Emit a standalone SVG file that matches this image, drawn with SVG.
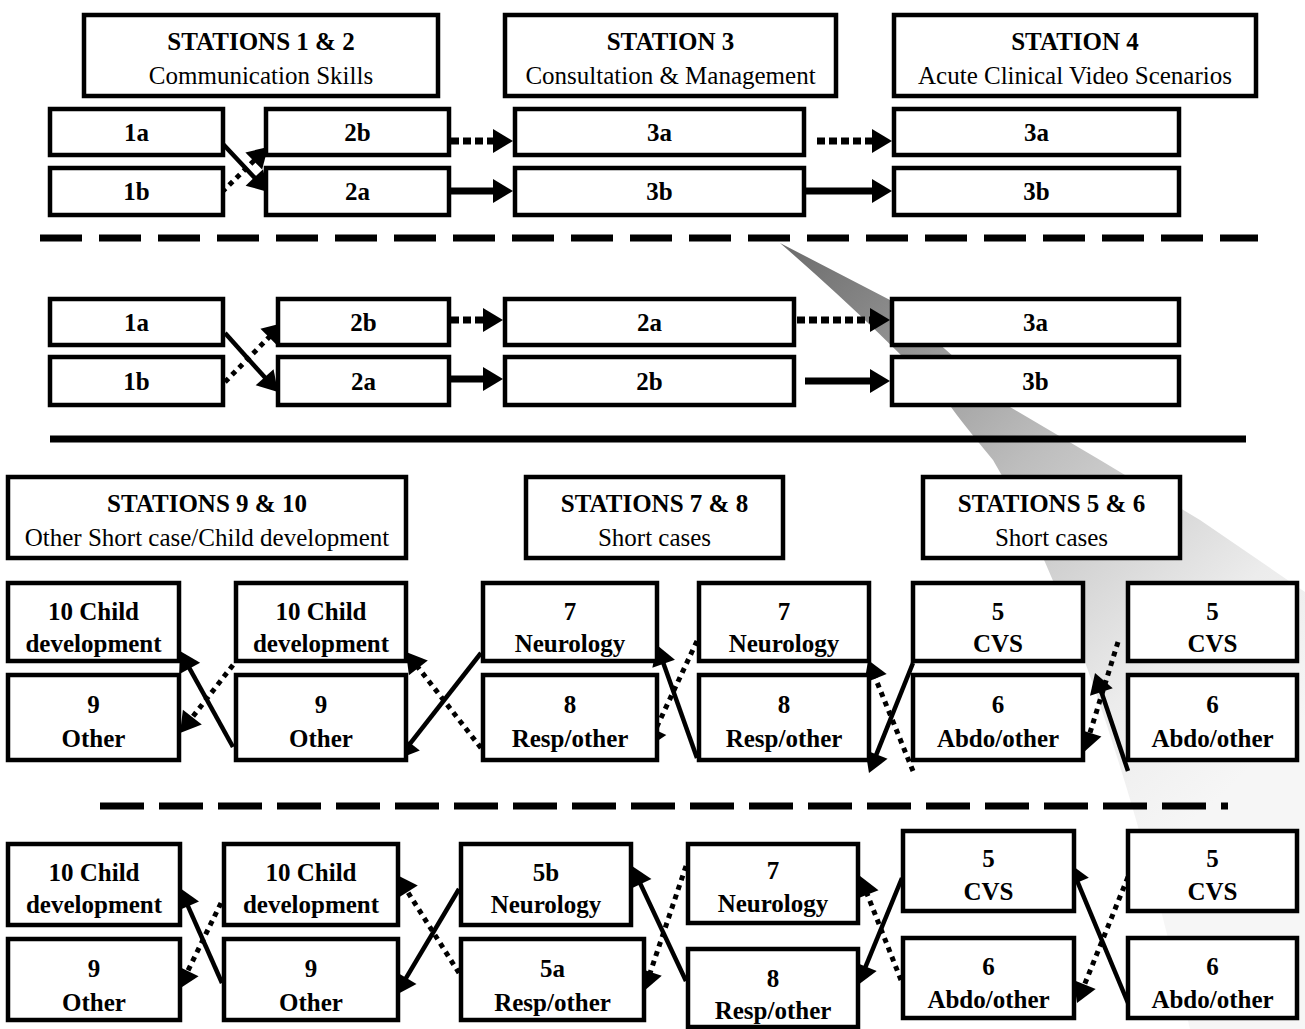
<svg xmlns="http://www.w3.org/2000/svg" width="1305" height="1029" viewBox="0 0 1305 1029">
<style>
.box{fill:#fff;stroke:#000;stroke-width:4.5}
.t{font-family:Liberation Serif,Tinos,Times New Roman,DejaVu Serif,Noto Serif,serif;font-size:25px;text-anchor:middle;fill:#000}
.b{font-weight:bold}
.sol{stroke:#000;stroke-width:7;fill:none}
.dot{stroke:#000;stroke-width:7;stroke-dasharray:8 4;fill:none}
.sold{stroke:#000;stroke-width:4.5;fill:none}
.dotd{stroke:#000;stroke-width:5;stroke-dasharray:5 5;fill:none}
.sep{stroke:#000;stroke-width:7;fill:none}
</style>
<defs>
<marker id="ah" markerUnits="userSpaceOnUse" markerWidth="20" markerHeight="24" refX="10" refY="12" orient="auto" overflow="visible">
<path d="M0,0 L20,12 L0,24 Z" fill="#000"/>
</marker>
<linearGradient id="sh" gradientUnits="userSpaceOnUse" x1="790" y1="250" x2="1260" y2="760">
<stop offset="0" stop-color="#6e6e6e"/>
<stop offset="0.45" stop-color="#bdbdbd"/>
<stop offset="0.8" stop-color="#ececec"/>
<stop offset="1" stop-color="#f6f6f6"/>
</linearGradient>
</defs>
<rect width="1305" height="1029" fill="#fff"/>
<g id="shadow">
<path d="M780,243 L890,300 L1010,407 L1100,460 L1200,520 L1305,592 L1305,1029 L1190,1029 Q1100,640 993,460 Q960,420 951,407 Q880,330 780,243 Z" fill="url(#sh)"/>
</g>
<g id="separators">
<line class="sep" x1="40" y1="238" x2="1258" y2="238" stroke-dasharray="42 17"/>
<line class="sep" x1="50" y1="439" x2="1246" y2="439" stroke-width="8"/>
<line class="sep" x1="100" y1="806" x2="1228" y2="806" stroke-dasharray="44 15"/>
</g>
<g id="connectors">
<!-- section 1 -->
<line class="sold" x1="222" y1="143" x2="261.2" y2="184.7" marker-end="url(#ah)"/>
<line class="dotd" x1="222" y1="192" x2="260.9" y2="154" marker-end="url(#ah)"/>
<line class="dot" x1="451" y1="141" x2="503" y2="141" marker-end="url(#ah)"/>
<line class="sol" x1="451" y1="191" x2="503" y2="191" marker-end="url(#ah)"/>
<line class="dot" x1="817" y1="141" x2="882" y2="141" marker-end="url(#ah)"/>
<line class="sol" x1="806" y1="191" x2="882" y2="191" marker-end="url(#ah)"/>
<!-- section 2 -->
<line class="sold" x1="225" y1="333" x2="271.3" y2="384.6" marker-end="url(#ah)"/>
<line class="dotd" x1="225" y1="382" x2="276" y2="330.1" marker-end="url(#ah)"/>
<line class="dot" x1="451" y1="320" x2="493" y2="320" marker-end="url(#ah)"/>
<line class="sol" x1="451" y1="379" x2="493" y2="379" marker-end="url(#ah)"/>
<line class="dot" x1="797" y1="320" x2="880" y2="320" marker-end="url(#ah)"/>
<line class="sol" x1="805" y1="381" x2="880" y2="381" marker-end="url(#ah)"/>
<!-- section 3 -->
<line class="sold" x1="233" y1="747" x2="184.8" y2="659.8" marker-end="url(#ah)"/>
<line class="dotd" x1="233" y1="665" x2="186.2" y2="725.1" marker-end="url(#ah)"/>
<line class="dotd" x1="481" y1="748" x2="412.2" y2="659.9" marker-end="url(#ah)"/>
<line class="sold" x1="481" y1="653" x2="404.2" y2="751.1" marker-end="url(#ah)"/>
<line class="sold" x1="697" y1="758" x2="660.3" y2="654.4" marker-end="url(#ah)"/>
<line class="dotd" x1="697" y1="641" x2="651.2" y2="738.9" marker-end="url(#ah)"/>
<line class="dotd" x1="913" y1="771" x2="871.8" y2="669.3" marker-end="url(#ah)"/>
<line class="sold" x1="913" y1="663" x2="872.7" y2="763.7" marker-end="url(#ah)"/>
<line class="dotd" x1="1118" y1="642" x2="1087" y2="742.4" marker-end="url(#ah)"/>
<line class="sold" x1="1128" y1="771" x2="1098.2" y2="682.5" marker-end="url(#ah)"/>
<!-- section 4 -->
<line class="sold" x1="222" y1="983" x2="184" y2="897.1" marker-end="url(#ah)"/>
<line class="dotd" x1="221" y1="903" x2="183.4" y2="980" marker-end="url(#ah)"/>
<line class="dotd" x1="459" y1="973" x2="402.3" y2="883.5" marker-end="url(#ah)"/>
<line class="sold" x1="459" y1="889" x2="401.1" y2="986.4" marker-end="url(#ah)"/>
<line class="sold" x1="686" y1="981" x2="636.3" y2="875.1" marker-end="url(#ah)"/>
<line class="dotd" x1="686" y1="866" x2="647.2" y2="981.5" marker-end="url(#ah)"/>
<line class="dotd" x1="901" y1="980" x2="863.7" y2="885.3" marker-end="url(#ah)"/>
<line class="sold" x1="902" y1="878" x2="861.8" y2="975.8" marker-end="url(#ah)"/>
<line class="sold" x1="1128" y1="1003" x2="1073.9" y2="873.2" marker-end="url(#ah)"/>
<line class="dotd" x1="1128" y1="877" x2="1080.8" y2="993.7" marker-end="url(#ah)"/>
</g>
<g id="nodes" font-family="Liberation Serif, Times New Roman, serif">
<!-- section 1 -->
<g id="s1-hdr12"><rect class="box" x="84" y="15" width="354" height="81"/><text class="t b" x="261" y="50">STATIONS 1 &amp; 2</text><text class="t" x="261" y="84">Communication Skills</text></g>
<g id="s1-hdr3"><rect class="box" x="505" y="15" width="331" height="81"/><text class="t b" x="670.5" y="50">STATION 3</text><text class="t" x="670.5" y="84">Consultation &amp; Management</text></g>
<g id="s1-hdr4"><rect class="box" x="894" y="15" width="362" height="81"/><text class="t b" x="1075" y="50">STATION 4</text><text class="t" x="1075" y="84">Acute Clinical Video Scenarios</text></g>
<g id="s1-1a"><rect class="box" x="50" y="109" width="173" height="46"/><text class="t b" x="136.5" y="141">1a</text></g>
<g id="s1-1b"><rect class="box" x="50" y="168" width="173" height="47"/><text class="t b" x="136.5" y="200">1b</text></g>
<g id="s1-2b"><rect class="box" x="266" y="109" width="183" height="46"/><text class="t b" x="357.5" y="141">2b</text></g>
<g id="s1-2a"><rect class="box" x="266" y="168" width="183" height="47"/><text class="t b" x="357.5" y="200">2a</text></g>
<g id="s1-3a"><rect class="box" x="515" y="109" width="289" height="46"/><text class="t b" x="659.5" y="141">3a</text></g>
<g id="s1-3b"><rect class="box" x="515" y="168" width="289" height="47"/><text class="t b" x="659.5" y="200">3b</text></g>
<g id="s1-4a"><rect class="box" x="894" y="109" width="285" height="46"/><text class="t b" x="1036.5" y="141">3a</text></g>
<g id="s1-4b"><rect class="box" x="894" y="168" width="285" height="47"/><text class="t b" x="1036.5" y="200">3b</text></g>
<!-- section 2 -->
<g id="s2-1a"><rect class="box" x="50" y="299" width="173" height="46"/><text class="t b" x="136.5" y="331">1a</text></g>
<g id="s2-1b"><rect class="box" x="50" y="357" width="173" height="48"/><text class="t b" x="136.5" y="390">1b</text></g>
<g id="s2-2b"><rect class="box" x="278" y="299" width="171" height="46"/><text class="t b" x="363.5" y="331">2b</text></g>
<g id="s2-2a"><rect class="box" x="278" y="357" width="171" height="48"/><text class="t b" x="363.5" y="390">2a</text></g>
<g id="s2-m2a"><rect class="box" x="505" y="299" width="289" height="46"/><text class="t b" x="649.5" y="331">2a</text></g>
<g id="s2-m2b"><rect class="box" x="505" y="357" width="289" height="48"/><text class="t b" x="649.5" y="390">2b</text></g>
<g id="s2-3a"><rect class="box" x="892" y="299" width="287" height="46"/><text class="t b" x="1035.5" y="331">3a</text></g>
<g id="s2-3b"><rect class="box" x="892" y="357" width="287" height="48"/><text class="t b" x="1035.5" y="390">3b</text></g>
<!-- section 3 -->
<g id="s3-hdr910"><rect class="box" x="8" y="477" width="398" height="81"/><text class="t b" x="207" y="512">STATIONS 9 &amp; 10</text><text class="t" x="207" y="546">Other Short case/Child development</text></g>
<g id="s3-hdr78"><rect class="box" x="526" y="477" width="257" height="81"/><text class="t b" x="654.5" y="512">STATIONS 7 &amp; 8</text><text class="t" x="654.5" y="546">Short cases</text></g>
<g id="s3-hdr56"><rect class="box" x="923" y="477" width="257" height="81"/><text class="t b" x="1051.5" y="512">STATIONS 5 &amp; 6</text><text class="t" x="1051.5" y="546">Short cases</text></g>
<g id="s3-c1t"><rect class="box" x="8" y="583" width="171" height="78"/><text class="t b" x="93.5" y="620">10 Child</text><text class="t b" x="93.5" y="652">development</text></g>
<g id="s3-c1b"><rect class="box" x="8" y="675" width="171" height="85"/><text class="t b" x="93.5" y="713">9</text><text class="t b" x="93.5" y="747">Other</text></g>
<g id="s3-c2t"><rect class="box" x="236" y="583" width="170" height="78"/><text class="t b" x="321" y="620">10 Child</text><text class="t b" x="321" y="652">development</text></g>
<g id="s3-c2b"><rect class="box" x="236" y="675" width="170" height="85"/><text class="t b" x="321" y="713">9</text><text class="t b" x="321" y="747">Other</text></g>
<g id="s3-c3t"><rect class="box" x="483" y="583" width="174" height="78"/><text class="t b" x="570" y="620">7</text><text class="t b" x="570" y="652">Neurology</text></g>
<g id="s3-c3b"><rect class="box" x="483" y="675" width="174" height="85"/><text class="t b" x="570" y="713">8</text><text class="t b" x="570" y="747">Resp/other</text></g>
<g id="s3-c4t"><rect class="box" x="699" y="583" width="170" height="78"/><text class="t b" x="784" y="620">7</text><text class="t b" x="784" y="652">Neurology</text></g>
<g id="s3-c4b"><rect class="box" x="699" y="675" width="170" height="85"/><text class="t b" x="784" y="713">8</text><text class="t b" x="784" y="747">Resp/other</text></g>
<g id="s3-c5t"><rect class="box" x="913" y="583" width="170" height="78"/><text class="t b" x="998" y="620">5</text><text class="t b" x="998" y="652">CVS</text></g>
<g id="s3-c5b"><rect class="box" x="913" y="675" width="170" height="85"/><text class="t b" x="998" y="713">6</text><text class="t b" x="998" y="747">Abdo/other</text></g>
<g id="s3-c6t"><rect class="box" x="1128" y="583" width="169" height="78"/><text class="t b" x="1212.5" y="620">5</text><text class="t b" x="1212.5" y="652">CVS</text></g>
<g id="s3-c6b"><rect class="box" x="1128" y="675" width="169" height="85"/><text class="t b" x="1212.5" y="713">6</text><text class="t b" x="1212.5" y="747">Abdo/other</text></g>
<!-- section 4 -->
<g id="s4-c1t"><rect class="box" x="8" y="844" width="172" height="81"/><text class="t b" x="94" y="881">10 Child</text><text class="t b" x="94" y="913">development</text></g>
<g id="s4-c1b"><rect class="box" x="8" y="939" width="172" height="81"/><text class="t b" x="94" y="977">9</text><text class="t b" x="94" y="1011">Other</text></g>
<g id="s4-c2t"><rect class="box" x="224" y="844" width="174" height="81"/><text class="t b" x="311" y="881">10 Child</text><text class="t b" x="311" y="913">development</text></g>
<g id="s4-c2b"><rect class="box" x="224" y="939" width="174" height="81"/><text class="t b" x="311" y="977">9</text><text class="t b" x="311" y="1011">Other</text></g>
<g id="s4-c3t"><rect class="box" x="461" y="844" width="170" height="81"/><text class="t b" x="546" y="881">5b</text><text class="t b" x="546" y="913">Neurology</text></g>
<g id="s4-c3b"><rect class="box" x="461" y="939" width="183" height="81"/><text class="t b" x="552.5" y="977">5a</text><text class="t b" x="552.5" y="1011">Resp/other</text></g>
<g id="s4-c4t"><rect class="box" x="688" y="844" width="170" height="79"/><text class="t b" x="773" y="879">7</text><text class="t b" x="773" y="912">Neurology</text></g>
<g id="s4-c4b"><rect class="box" x="688" y="949" width="170" height="78"/><text class="t b" x="773" y="987">8</text><text class="t b" x="773" y="1019">Resp/other</text></g>
<g id="s4-c5t"><rect class="box" x="903" y="831" width="171" height="80"/><text class="t b" x="988.5" y="867">5</text><text class="t b" x="988.5" y="900">CVS</text></g>
<g id="s4-c5b"><rect class="box" x="903" y="938" width="171" height="80"/><text class="t b" x="988.5" y="975">6</text><text class="t b" x="988.5" y="1008">Abdo/other</text></g>
<g id="s4-c6t"><rect class="box" x="1128" y="831" width="169" height="80"/><text class="t b" x="1212.5" y="867">5</text><text class="t b" x="1212.5" y="900">CVS</text></g>
<g id="s4-c6b"><rect class="box" x="1128" y="938" width="169" height="80"/><text class="t b" x="1212.5" y="975">6</text><text class="t b" x="1212.5" y="1008">Abdo/other</text></g>
</g>
</svg>
